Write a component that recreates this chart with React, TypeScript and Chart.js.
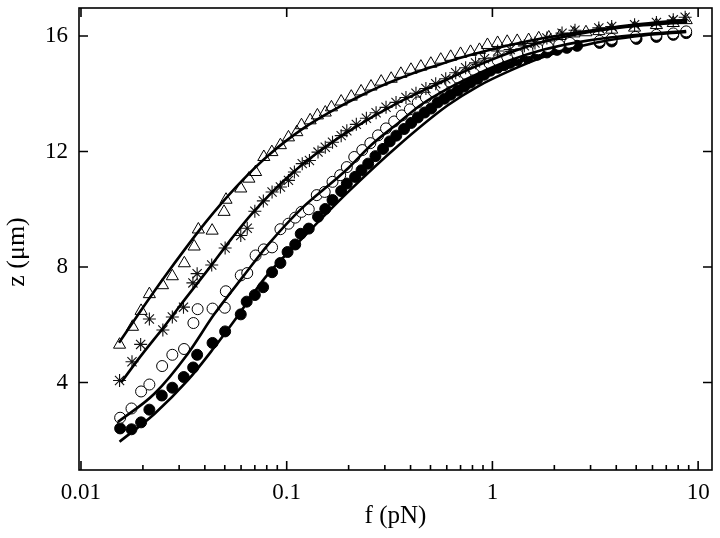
import React, { useEffect, useRef } from 'react';
import { Chart, registerables } from 'chart.js';
Chart.register(...registerables);

// ---- data (force in pN, extension in µm) ----
const triF = [0.0154, 0.0178, 0.0196, 0.0215, 0.0249, 0.0278, 0.0318, 0.0355, 0.0372, 0.0434, 0.0496, 0.0507, 0.0598, 0.0655, 0.0706, 0.0774, 0.0847, 0.0932, 0.102, 0.112, 0.118, 0.130, 0.141, 0.154, 0.165, 0.184, 0.206, 0.230, 0.257, 0.288, 0.322, 0.359, 0.402, 0.449, 0.502, 0.561, 0.627, 0.700, 0.783, 0.865, 0.946, 1.06, 1.18, 1.32, 1.50, 1.68, 1.88, 2.13, 2.49, 2.85, 3.29, 3.80, 4.91, 6.27, 7.57, 8.75];
const triZ = [5.31, 5.93, 6.48, 7.06, 7.37, 7.68, 8.13, 8.71, 9.30, 9.26, 9.91, 10.33, 10.72, 11.06, 11.29, 11.81, 11.98, 12.22, 12.49, 12.67, 12.91, 13.08, 13.25, 13.35, 13.53, 13.73, 13.90, 14.08, 14.25, 14.42, 14.52, 14.69, 14.83, 14.94, 15.04, 15.18, 15.28, 15.38, 15.45, 15.52, 15.69, 15.76, 15.80, 15.83, 15.86, 15.92, 15.95, 16.00, 16.09, 16.13, 16.17, 16.22, 16.29, 16.38, 16.45, 16.55];

const astF = [0.0154, 0.0177, 0.0195, 0.0215, 0.0250, 0.0278, 0.0315, 0.0350, 0.0367, 0.0432, 0.0502, 0.0598, 0.0643, 0.0700, 0.0770, 0.0849, 0.0932, 0.102, 0.109, 0.119, 0.129, 0.142, 0.154, 0.167, 0.184, 0.196, 0.218, 0.244, 0.272, 0.304, 0.340, 0.380, 0.425, 0.475, 0.530, 0.593, 0.663, 0.741, 0.828, 0.915, 1.06, 1.22, 1.43, 1.61, 1.84, 2.18, 2.52, 3.29, 3.80, 4.91, 6.27, 7.57, 8.65];
const astZ = [4.07, 4.72, 5.32, 6.20, 5.82, 6.27, 6.61, 7.45, 7.77, 8.07, 8.66, 9.09, 9.34, 9.93, 10.29, 10.60, 10.77, 11.00, 11.29, 11.58, 11.69, 11.98, 12.15, 12.32, 12.55, 12.72, 12.94, 13.15, 13.34, 13.53, 13.70, 13.87, 14.02, 14.18, 14.35, 14.52, 14.73, 14.90, 15.07, 15.21, 15.48, 15.53, 15.66, 15.76, 15.93, 16.10, 16.20, 16.28, 16.33, 16.39, 16.47, 16.56, 16.65];

const openF = [0.0155, 0.0176, 0.0196, 0.0215, 0.0248, 0.0278, 0.0317, 0.0352, 0.0369, 0.0436, 0.0500, 0.0506, 0.0598, 0.0643, 0.0706, 0.0774, 0.0849, 0.0932, 0.102, 0.110, 0.118, 0.128, 0.140, 0.153, 0.167, 0.182, 0.196, 0.213, 0.233, 0.255, 0.278, 0.304, 0.333, 0.363, 0.397, 0.434, 0.475, 0.519, 0.567, 0.620, 0.678, 0.741, 0.810, 0.885, 0.967, 1.06, 1.18, 1.32, 1.49, 1.67, 1.86, 2.11, 2.38, 3.32, 3.80, 4.96, 6.27, 7.57, 8.75];
const openZ = [2.78, 3.10, 3.69, 3.93, 4.57, 4.96, 5.16, 6.06, 6.54, 6.56, 6.59, 7.16, 7.71, 7.79, 8.40, 8.61, 8.68, 9.31, 9.50, 9.71, 9.91, 10.00, 10.49, 10.60, 10.95, 11.18, 11.46, 11.81, 12.05, 12.29, 12.56, 12.80, 13.04, 13.25, 13.46, 13.70, 13.87, 14.08, 14.25, 14.42, 14.56, 14.69, 14.83, 14.95, 15.06, 15.16, 15.28, 15.37, 15.47, 15.54, 15.62, 15.69, 15.76, 15.83, 15.90, 15.97, 16.04, 16.09, 16.16];

const filledF = [0.0155, 0.0176, 0.0196, 0.0215, 0.0247, 0.0278, 0.0316, 0.0351, 0.0367, 0.0436, 0.0502, 0.0598, 0.0639, 0.0700, 0.0768, 0.0849, 0.0932, 0.101, 0.110, 0.117, 0.128, 0.142, 0.154, 0.167, 0.184, 0.196, 0.215, 0.231, 0.249, 0.270, 0.294, 0.317, 0.341, 0.372, 0.403, 0.434, 0.468, 0.504, 0.542, 0.584, 0.627, 0.678, 0.730, 0.783, 0.847, 0.912, 0.978, 1.06, 1.14, 1.22, 1.32, 1.48, 1.65, 1.84, 2.06, 2.30, 2.58, 3.32, 3.80, 5.02, 6.27, 7.57, 8.75];
const filledZ = [2.41, 2.38, 2.62, 3.06, 3.55, 3.82, 4.19, 4.52, 4.96, 5.37, 5.77, 6.36, 6.80, 7.03, 7.30, 7.82, 8.14, 8.52, 8.78, 9.15, 9.33, 9.74, 10.01, 10.32, 10.63, 10.89, 11.12, 11.35, 11.58, 11.84, 12.09, 12.35, 12.55, 12.78, 12.99, 13.18, 13.35, 13.49, 13.70, 13.83, 13.97, 14.11, 14.25, 14.39, 14.52, 14.66, 14.80, 14.90, 14.99, 15.07, 15.16, 15.24, 15.35, 15.43, 15.52, 15.59, 15.66, 15.76, 15.81, 15.90, 15.97, 16.04, 16.10];

// fitted curves
const fit1F = [0.0153, 0.0199, 0.0255, 0.0325, 0.0406, 0.0485, 0.0567, 0.0678, 0.0818, 0.0989, 0.118, 0.143, 0.173, 0.230, 0.278, 0.336, 0.402, 0.485, 0.586, 0.700, 0.915, 1.22, 1.78, 2.57, 3.70, 5.40, 8.85];
const fit1Z = [5.38, 6.57, 7.66, 8.68, 9.57, 10.23, 10.77, 11.34, 11.88, 12.36, 12.76, 13.14, 13.48, 13.94, 14.22, 14.47, 14.68, 14.88, 15.07, 15.25, 15.47, 15.69, 15.93, 16.12, 16.28, 16.42, 16.56];

const fit2F = [0.0157, 0.0193, 0.0259, 0.0324, 0.0420, 0.0542, 0.0678, 0.0989, 0.143, 0.199, 0.348, 0.607, 0.915, 1.22, 1.78, 2.58, 3.72, 5.42, 8.85];
const fit2Z = [4.01, 4.87, 6.02, 6.93, 7.96, 9.00, 9.85, 11.05, 11.99, 12.69, 13.69, 14.51, 15.08, 15.43, 15.81, 16.06, 16.24, 16.37, 16.48];

const fit3F = [0.0151, 0.0228, 0.0330, 0.0444, 0.0620, 0.0818, 0.119, 0.172, 0.199, 0.260, 0.348, 0.450, 0.607, 0.847, 1.22, 1.78, 2.58, 3.72, 5.42, 8.75];
const fit3Z = [2.63, 3.62, 4.99, 6.36, 7.71, 8.80, 10.05, 11.02, 11.42, 12.25, 12.98, 13.62, 14.18, 14.69, 15.16, 15.53, 15.78, 15.95, 16.06, 16.17];

const fit4F = [0.0154, 0.0228, 0.0330, 0.0444, 0.0555, 0.0789, 0.119, 0.199, 0.348, 0.607, 0.847, 1.22, 1.78, 2.58, 3.72, 5.42, 8.75];
const fit4Z = [1.95, 2.92, 4.07, 5.21, 6.13, 7.65, 8.99, 10.60, 12.20, 13.60, 14.25, 14.80, 15.28, 15.62, 15.86, 16.02, 16.14];

// axes
const xTickValues = [0.01, 0.1, 1, 10];
const xTickLabels = ['0.01', '0.1', '1', '10'];
const xMinorValues = [0.02, 0.03, 0.04, 0.05, 0.06, 0.07, 0.08, 0.09, 0.2, 0.3, 0.4, 0.5, 0.6, 0.7, 0.8, 0.9, 2, 3, 4, 5, 6, 7, 8, 9];
const yTickValues = [4, 8, 12, 16];
const yTickLabels = ['4', '8', '12', '16'];
const xTitle = 'f (pN)';
const yTitle = 'z (\u03bcm)';

const FONT = 'Liberation Serif';

function pts(f: number[], z: number[]) {
  return f.map((v, i) => ({ x: v, y: z[i] }));
}

function lineSet(f: number[], z: number[]) {
  return {
    type: 'line' as const,
    data: pts(f, z),
    borderColor: '#000',
    borderWidth: 2.6,
    pointRadius: 0,
    fill: false,
    showLine: true,
    cubicInterpolationMode: 'monotone' as const,
    order: 0,
  };
}

export default function App() {
  const ref = useRef<HTMLCanvasElement>(null);

  useEffect(() => {
    if (!ref.current) return;
    const framePlugin = {
      id: 'framePlugin',
      afterDraw(chart: any) {
        const { ctx, chartArea, scales } = chart;
        const { left, right, top, bottom } = chartArea;
        const xs = scales.x;
        const ys = scales.y;
        ctx.save();
        ctx.strokeStyle = '#000';
        ctx.lineWidth = 1.6;
        ctx.strokeRect(left, top, right - left, bottom - top);
        ctx.beginPath();
        xTickValues.forEach((v) => {
          const px = xs.getPixelForValue(v);
          if (px < left + 1 || px > right - 1) return;
          ctx.moveTo(px, bottom);
          ctx.lineTo(px, bottom - 9);
          ctx.moveTo(px, top);
          ctx.lineTo(px, top + 9);
        });
        xMinorValues.forEach((v) => {
          const px = xs.getPixelForValue(v);
          if (px < left || px > right) return;
          ctx.moveTo(px, bottom);
          ctx.lineTo(px, bottom - 5);
        });
        yTickValues.forEach((v) => {
          const py = ys.getPixelForValue(v);
          ctx.moveTo(left, py);
          ctx.lineTo(left + 9, py);
          ctx.moveTo(right, py);
          ctx.lineTo(right - 9, py);
        });
        ctx.stroke();
        ctx.translate(17, 252);
        ctx.rotate(-Math.PI / 2);
        ctx.font = `26px "${FONT}"`;
        ctx.textAlign = 'center';
        ctx.textBaseline = 'middle';
        ctx.fillStyle = '#000';
        ctx.fillText(yTitle, 0, 0);
        ctx.restore();
      },
    };

    const chart = new Chart(ref.current, {
      type: 'line',
      data: {
        datasets: [
          lineSet(fit1F, fit1Z),
          lineSet(fit2F, fit2Z),
          lineSet(fit3F, fit3Z),
          lineSet(fit4F, fit4Z),
          {
            data: pts(triF, triZ),
            showLine: false,
            pointStyle: 'triangle',
            pointRadius: 7,
            pointBorderWidth: 1,
            pointBorderColor: '#000',
            pointBackgroundColor: 'rgba(255,255,255,0)',
            order: 1,
          },
          {
            data: pts(astF, astZ),
            showLine: false,
            pointStyle: 'star',
            pointRadius: 6.5,
            pointBorderWidth: 1.1,
            pointBorderColor: '#111',
            pointBackgroundColor: 'rgba(0,0,0,0)',
            order: 2,
          },
          {
            data: pts(openF, openZ),
            showLine: false,
            pointStyle: 'circle',
            pointRadius: 5.5,
            pointBorderWidth: 1,
            pointBorderColor: '#000',
            pointBackgroundColor: '#fff',
            order: 3,
          },
          {
            data: pts(filledF, filledZ),
            showLine: false,
            pointStyle: 'circle',
            pointRadius: 5.5,
            pointBorderWidth: 1,
            pointBorderColor: '#000',
            pointBackgroundColor: '#000',
            order: 4,
          },
        ] as any,
      },
      options: {
        animation: false,
        responsive: false,
        devicePixelRatio: 1,
        layout: { padding: { top: 5, right: 4, left: 0, bottom: 0 } },
        plugins: { legend: { display: false }, tooltip: { enabled: false } },
        scales: {
          x: {
            type: 'logarithmic',
            position: 'bottom',
            min: 0.00978,
            max: 11.68,
            grid: { display: false, drawTicks: false },
            border: { display: false },
            afterBuildTicks: (s: any) => {
              s.ticks = xTickValues.map((v) => ({ value: v }));
            },
            afterFit: (s: any) => {
              s.height = 68;
              s.paddingLeft = 0;
              s.paddingRight = 0;
            },
            ticks: {
              autoSkip: false,
              maxRotation: 0,
              minRotation: 0,
              padding: 9,
              color: '#000',
              font: { family: FONT, size: 23 },
              callback: (_v: any, i: number) => xTickLabels[i] ?? '',
            },
            title: {
              display: true,
              text: xTitle,
              color: '#000',
              font: { family: FONT, size: 25 },
              padding: { top: 0, bottom: 7 },
            },
          },
          y: {
            type: 'linear',
            min: 0.97,
            max: 16.97,
            grid: { display: false, drawTicks: false },
            border: { display: false },
            afterBuildTicks: (s: any) => {
              s.ticks = yTickValues.map((v) => ({ value: v }));
            },
            afterFit: (s: any) => {
              s.width = 79;
              s.paddingTop = 0;
              s.paddingBottom = 0;
            },
            ticks: {
              padding: 11,
              color: '#000',
              font: { family: FONT, size: 23 },
              callback: (_v: any, i: number) => yTickLabels[i] ?? '',
            },
          },
        },
      } as any,
      plugins: [framePlugin],
    });
    return () => chart.destroy();
  }, []);

  return (
    <div style={{ position: 'absolute', left: 0, top: 0, width: 720, height: 538, background: '#fff' }}>
      <canvas ref={ref} width={720} height={538} style={{ display: 'block', width: 720, height: 538 }} />
    </div>
  );
}
